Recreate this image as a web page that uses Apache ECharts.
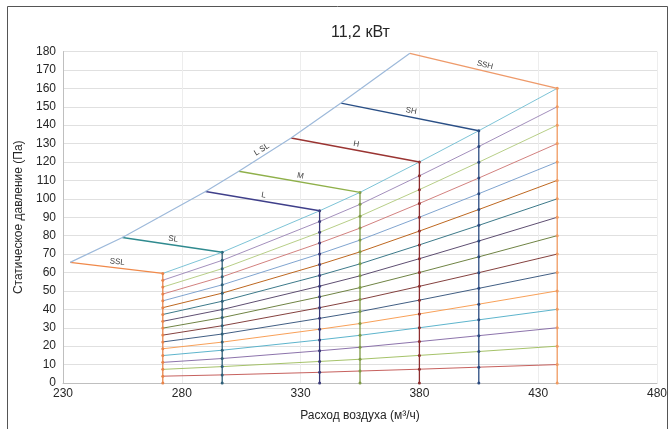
<!DOCTYPE html>
<html><head><meta charset="utf-8">
<script src="https://cdn.jsdelivr.net/npm/echarts@6/dist/echarts.min.js"></script>
<style>html,body{margin:0;padding:0;background:#fff}#c{width:672px;height:429px}</style>
</head><body><div id="c"></div>
<script>
// Fan speed names and airflow of each speed's vertical line (m3/h)
const SPEEDS = ['SSL','SL','L','M','H','SH','SSH'];
const FLOW = [272, 297, 338, 355, 380, 405, 438];
// Starting points of the labeled speed lines (left end)
const START_FLOW = [233, 255, 290, 304, 326, 347, 376];
const START_PRESS = [65.5, 79, 104, 115, 133, 152, 179];
// Pressure points on each speed's vertical line (bottom to top, 16 steps)
const P_SSL = [3.7, 7.4, 11.2, 14.9, 18.6, 22.3, 26.0, 29.8, 33.5, 37.2, 40.9, 44.6, 48.3, 52.1, 55.8, 59.5];
const P_SL  = [4.4, 8.9, 13.3, 17.8, 22.2, 26.6, 31.1, 35.5, 39.9, 44.4, 48.8, 53.3, 57.7, 62.1, 66.6, 71];
const P_L   = [5.8, 11.7, 17.5, 23.4, 29.2, 35.1, 40.9, 46.8, 52.6, 58.4, 64.3, 70.1, 76.0, 81.8, 87.7, 93.5];
const P_M   = [6.5, 12.9, 19.4, 25.9, 32.3, 38.8, 45.3, 51.8, 58.2, 64.7, 71.2, 77.6, 84.1, 90.6, 97.0, 103.5];
const P_H   = [7.5, 15, 22.5, 30, 37.5, 45, 52.5, 60, 67.5, 75, 82.5, 90, 97.5, 105, 112.5, 120];
const P_SH  = [8.6, 17.1, 25.7, 34.3, 42.8, 51.4, 59.9, 68.5, 77.1, 85.6, 94.2, 102.8, 111.3, 119.9, 128.4, 137];
const P_SSH = [10, 20, 30, 40, 50, 60, 70, 80, 90, 100, 110, 120, 130, 140, 150, 160];
const ENVELOPE_LABEL = 'L SL';
const X_TICKS = [230, 280, 330, 380, 430, 480];
const Y_TICKS = [0,10,20,30,40,50,60,70,80,90,100,110,120,130,140,150,160,170,180];

const COLS = [P_SSL, P_SL, P_L, P_M, P_H, P_SH, P_SSH];
const SPEED_COLORS = ['#F0894A','#2F8A8F','#3F3F8A','#8FB04A','#9A3432','#2A4F86','#EE9A6A'];
const VERT_COLORS  = ['#E8844A','#2E5F78','#3A3A78','#7E9A45','#8E2F30','#2A4A80','#F09A60'];
const FAN_COLORS = ['#C0504D','#9BBB59','#8064A2','#4BACC6','#F79646','#2C4D75','#772C2A','#5F7530',
                    '#4D3B62','#276A7C','#B65708','#729ACA','#CD7371','#AFC97A','#9983B5','#6FBDD1'];
const FONT = 'Liberation Sans';

const series = [];
for (let i = 0; i < 16; i++) {
  series.push({
    type: 'line', data: FLOW.map((x, v) => [x, COLS[v][i]]),
    showSymbol: false, lineStyle: {width: 1, color: FAN_COLORS[i], opacity: 0.9}, z: 2, silent: true
  });
}
for (let v = 0; v < 7; v++) {
  series.push({
    type: 'line', data: [[FLOW[v], 0]].concat(COLS[v].map(p => [FLOW[v], p])),
    symbol: 'circle', symbolSize: 3, showSymbol: true,
    itemStyle: {color: VERT_COLORS[v]},
    lineStyle: {width: 1.3, color: VERT_COLORS[v]}, z: 3, silent: true
  });
}
const labelSegs = [];
for (let v = 0; v < 7; v++) {
  const a = [START_FLOW[v], START_PRESS[v]];
  const b = [FLOW[v], COLS[v][15]];
  series.push({
    type: 'line', data: [a, b], showSymbol: false,
    lineStyle: {width: 1.4, color: SPEED_COLORS[v]}, z: 4, silent: true
  });
  labelSegs.push([a, b, SPEEDS[v]]);
}
series.push({
  type: 'line', data: START_FLOW.map((x, v) => [x, START_PRESS[v]]), showSymbol: false,
  lineStyle: {width: 1.2, color: '#9DB9DA'}, z: 4, silent: true
});
labelSegs.push([[START_FLOW[3], START_PRESS[3]], [START_FLOW[4], START_PRESS[4]], ENVELOPE_LABEL]);

const chart = echarts.init(document.getElementById('c'), null, {renderer: 'canvas'});
const baseGraphic = [{type: 'rect', shape: {x: 7.5, y: 6.5, width: 660, height: 440},
    style: {fill: 'none', stroke: '#555', lineWidth: 1}, silent: true, z: -1}];
chart.setOption({
  animation: false,
  backgroundColor: '#fff',
  textStyle: {fontFamily: FONT},
  title: {text: '11,2 кВт', left: 326, top: 20,
    textStyle: {fontSize: 16, fontWeight: 'normal', color: '#262626', fontFamily: FONT}},
  graphic: baseGraphic,
  grid: {left: 63, right: 15, top: 51.5, bottom: 46},
  xAxis: {
    type: 'value', min: X_TICKS[0], max: X_TICKS[X_TICKS.length - 1], interval: X_TICKS[1] - X_TICKS[0],
    name: 'Расход воздуха (м³/ч)', nameLocation: 'middle', nameGap: 27,
    nameTextStyle: {fontSize: 12, color: '#262626', fontFamily: FONT},
    axisLine: {lineStyle: {color: '#BFBFBF'}}, axisTick: {show: false},
    axisLabel: {fontSize: 12, color: '#262626', margin: 5, fontFamily: FONT},
    splitLine: {show: true, lineStyle: {color: '#EDEDED'}}
  },
  yAxis: {
    type: 'value', min: Y_TICKS[0], max: Y_TICKS[Y_TICKS.length - 1], interval: Y_TICKS[1] - Y_TICKS[0],
    name: 'Статическое давление (Па)', nameLocation: 'middle', nameGap: 37,
    nameTextStyle: {fontSize: 12, color: '#262626', fontFamily: FONT},
    axisLine: {show: true, lineStyle: {color: '#BFBFBF'}}, axisTick: {show: false},
    axisLabel: {fontSize: 12, color: '#262626', margin: 7, fontFamily: FONT},
    splitLine: {lineStyle: {color: '#E0E0E0'}}
  },
  series: series
});
// segment labels, positioned through the chart's own coordinate conversion
const texts = labelSegs.map(([a, b, t]) => {
  const pa = chart.convertToPixel({gridIndex: 0}, a);
  const pb = chart.convertToPixel({gridIndex: 0}, b);
  const mx = (pa[0] + pb[0]) / 2, my = (pa[1] + pb[1]) / 2;
  const rot = Math.atan2(pa[1] - pb[1], pb[0] - pa[0]);
  return {type: 'text', x: mx, y: my, rotation: rot, silent: true, z: 10,
    style: {text: t, x: 0, y: -2, align: 'center', verticalAlign: 'bottom',
      fontSize: 8, fill: '#404040', fontFamily: FONT}};
});
chart.setOption({graphic: baseGraphic.concat(texts)});
</script></body></html>
